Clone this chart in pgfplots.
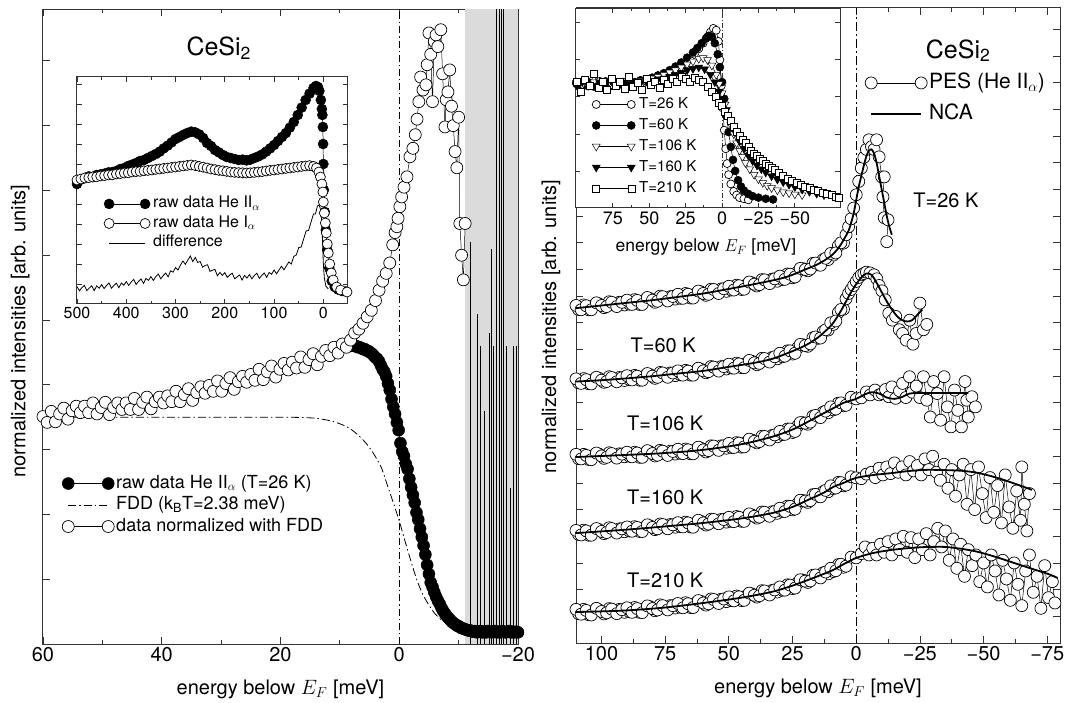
\documentclass[border=0pt]{standalone}
\usepackage{pgfplots}
\pgfplotsset{compat=1.18}
\usepackage{fontspec}
\setmainfont{TeX Gyre Heros}
\begin{document}
\begin{tikzpicture}[x=1pt,y=1pt]
\useasboundingbox (0,0) rectangle (1067,702);
\pgfplotsset{
  base/.style={scale only axis, x dir=reverse, anchor=south west,
    axis line style={black!80, line width=1pt},
    tick style={black!80, line width=0.8pt},
    major tick length=7pt, minor tick length=4pt,
    yticklabels={}, legend cell align=left},
  lenleg/.style={legend image code/.code={\draw[##1] plot coordinates {(0pt,0pt) (#1,0pt)}; \path[draw=none, fill=none] (-7pt,-3pt) rectangle ([xshift=7pt]#1,3pt);}},
  pes/.style={black, line width=0.5pt, mark=*, mark size=#1, mark options={solid, fill=white, draw=black, line width=0.7pt}},
  dots/.style={black, line width=0.5pt, mark=*, mark size=#1, mark options={solid, fill=black, draw=black}},
  tri/.style={black, line width=0.5pt, mark=triangle*, mark size=#1, mark options={solid, fill=white, draw=black, rotate=180}},
  trif/.style={black, line width=0.5pt, mark=triangle*, mark size=#1, mark options={solid, fill=black, draw=black, rotate=180}},
  sq/.style={black, line width=0.5pt, mark=square*, mark size=#1, mark options={solid, fill=white, draw=black}},
  nca/.style={black, line width=1.8pt, smooth},
}
% ================= LEFT MAIN =================
\begin{axis}[base, at={(43pt,58pt)}, width=475pt, height=635pt,
  xmin=-20, xmax=60, ymin=0, ymax=9.8,
  xtick={-20,0,20,40,60}, xticklabels={−20,0,20,40,60}, minor x tick num=1,
  ytick={1,...,9},
  font=\fontsize{20}{24}\selectfont,
  xlabel={energy below $E_F$ [meV]}, ylabel={normalized intensities [arb. units]},
  xlabel style={at={(axis description cs:0.5,-0.072)}, anchor=center},
  ylabel style={at={(axis description cs:-0.048,0.493)}, anchor=center},
  lenleg=40pt,
  legend style={at={(0.038,0.268)}, anchor=north west, draw=none, fill=none, inner sep=0pt,
    font=\fontsize{18}{21}\selectfont, row sep=2.5pt,
    nodes={inner sep=1pt, text height=13pt, text depth=4pt, anchor=west}},
]
\addplot[fill=black!14, draw=none, forget plot] coordinates {(-11.05,9.8) (-20,9.8)} \closedcycle;
\addplot[ycomb, black, line width=0.8pt, forget plot] coordinates {
(-12.0,6.2) (-13.2,5.1) (-13.7,4.6) (-14.3,3.6) (-15.2,4.8) (-15.5,6.1) (-15.9,4.6)
(-16.4,12) (-16.8,12) (-17.2,12) (-17.6,12) (-18.1,4.6) (-18.7,2.4) (-19.3,4.6) (-19.7,4.6)};
\addplot[black, line width=0.8pt, dash pattern=on 7pt off 3pt on 1.2pt off 3pt, forget plot] coordinates {(0,0) (0,9.8)};
\addlegendimage{dots=6pt}
\addlegendentry{raw data He II$_\alpha$ (T=26 K)}
\addlegendimage{black, line width=0.8pt, dash pattern=on 8pt off 3pt on 1.5pt off 3pt}
\addlegendentry{FDD (k\textsubscript{B}T=2.38 meV)}
\addlegendimage{pes=6pt}
\addlegendentry{data normalized with FDD}
% FDD
\addplot[black, line width=0.8pt, dash pattern=on 8pt off 3pt on 1.5pt off 3pt, smooth, forget plot] coordinates {
(60,3.50) (40,3.50) (20,3.50) (15,3.49) (13,3.47) (11,3.43) (9,3.36) (7.5,3.27) (6,3.14) (5,3.03) (4,2.89) (3,2.72) (2,2.45) (1,2.18) (0,1.90) (-1,1.58) (-2,1.27) (-3,0.98) (-4,0.76) (-5,0.60) (-6,0.47) (-7,0.38) (-8,0.32) (-9,0.28) (-10,0.25) (-12,0.22) (-15,0.20) (-20,0.20)};
% raw data
\addplot[dots=6pt, forget plot] coordinates {
(10,4.58) (9.7,4.60) (9.4,4.60) (9.1,4.62) (8.8,4.60) (8.5,4.62) (8.2,4.60) (7.9,4.62) (7.6,4.60) (7.3,4.60) (7.0,4.58) (6.7,4.58) (6.4,4.57) (6.1,4.55) (5.8,4.55) (5.5,4.53) (5.2,4.52) (4.9,4.50) (4.6,4.48) (4.3,4.45) (4.0,4.42) (3.7,4.40) (3.4,4.36) (3.1,4.30) (2.8,4.24) (2.5,4.20) (2.2,4.13) (1.9,4.02) (1.6,3.92) (1.3,3.78) (1.0,3.66) (0.7,3.55) (0.4,3.42) (0.1,3.30) (-0.2,3.10) (-0.5,2.97) (-0.8,2.90) (-1.1,2.78) (-1.4,2.70) (-1.7,2.55) (-2.0,2.42) (-2.3,2.30) (-2.6,2.18) (-2.9,2.03) (-3.2,1.92) (-3.5,1.78) (-3.8,1.65) (-4.1,1.52) (-4.4,1.38) (-4.7,1.22) (-5.0,1.08) (-5.3,0.95) (-5.6,0.88) (-5.9,0.80) (-6.2,0.73) (-6.5,0.67) (-6.8,0.62) (-7.1,0.56) (-7.4,0.51) (-7.7,0.47) (-8.0,0.43) (-8.3,0.40) (-8.6,0.37) (-8.9,0.34) (-9.2,0.32) (-9.5,0.30) (-9.8,0.28) (-10.1,0.27) (-10.4,0.25) (-10.7,0.24) (-11.0,0.23) (-11.3,0.22) (-11.6,0.21) (-11.9,0.21) (-12.2,0.20) (-12.5,0.19) (-12.8,0.20) (-13.1,0.18) (-13.4,0.19) (-13.7,0.20) (-14.0,0.18) (-14.3,0.19) (-14.6,0.18) (-14.9,0.20) (-15.2,0.19) (-15.5,0.18) (-15.8,0.19) (-16.1,0.20) (-16.4,0.18) (-16.7,0.19) (-17.0,0.18) (-17.3,0.20) (-17.6,0.19) (-17.9,0.18) (-18.2,0.19) (-18.5,0.20) (-18.8,0.18) (-19.1,0.19) (-19.4,0.18) (-19.7,0.19) (-20.0,0.18)};
% normalized data
\addplot[pes=6pt, forget plot] coordinates {
(60,3.51) (59.3,3.42) (58.6,3.59) (57.9,3.43) (57.2,3.55) (56.5,3.64) (55.8,3.47) (55.1,3.60) (54.4,3.67) (53.7,3.57) (53.0,3.67) (52.3,3.57) (51.6,3.72) (50.9,3.55) (50.2,3.65) (49.5,3.73) (48.8,3.54) (48.1,3.65) (47.4,3.72) (46.7,3.62) (46.0,3.72) (45.3,3.62) (44.6,3.79) (43.9,3.62) (43.2,3.73) (42.5,3.81) (41.8,3.63) (41.1,3.74) (40.4,3.81) (39.7,3.72) (39.0,3.83) (38.3,3.74) (37.6,3.90) (36.9,3.74) (36.2,3.85) (35.5,3.94) (34.8,3.76) (34.1,3.88) (33.4,3.97) (32.7,3.87) (32.0,3.99) (31.3,3.90) (30.6,4.06) (29.9,3.90) (29.2,4.02) (28.5,4.11) (27.8,3.93) (27.1,4.05) (26.4,4.13) (25.7,4.04) (25.0,4.16) (24.3,4.07) (23.6,4.24) (22.9,4.08) (22.2,4.20) (21.5,4.29) (20.8,4.12) (20.1,4.24) (19.4,4.33) (18.7,4.23) (18.0,4.35) (17.3,4.26) (16.6,4.43) (15.9,4.27) (15.2,4.39) (14.5,4.48) (13.8,4.31) (13.1,4.44) (12.4,4.53) (11.7,4.45) (11.0,4.58) (10.3,4.49) (9.6,4.63) (8.9,4.58) (8.2,4.69) (7.5,4.80) (6.8,4.86) (6.1,4.95) (5.4,5.05) (4.7,5.15) (4.0,5.30) (3.4,5.46) (2.8,5.60) (2.2,5.72) (1.6,5.88) (1.1,6.16) (0.7,6.35) (0.4,6.44) (0.2,6.57) (-0.1,6.75) (-0.4,6.90) (-0.8,7.05) (-1.3,7.21) (-1.8,7.52) (-2.3,7.65) (-2.7,7.86) (-3.0,8.10) (-3.3,8.37) (-3.6,8.75) (-4.0,8.55) (-4.5,8.63) (-4.7,8.94) (-5.0,9.43) (-5.3,9.10) (-5.6,8.37) (-5.9,9.30) (-6.2,9.40) (-6.5,9.22) (-7.0,9.48) (-7.3,8.80) (-7.7,7.98) (-7.9,8.40) (-8.2,8.52) (-8.5,8.86) (-8.8,8.30) (-9.1,8.00) (-9.4,7.60) (-9.7,7.35) (-10.0,8.13) (-10.2,6.49) (-10.5,6.00) (-10.8,5.62) (-11.1,6.49)};
\node[font=\fontsize{25}{30}\selectfont] at (axis cs:30.4,9.2) {CeSi\textsubscript{2}};
\end{axis}
% ================= LEFT INSET =================
\begin{axis}[base, at={(77pt,398pt)}, width=271pt, height=227pt,
  xmin=-50, xmax=500, ymin=0, ymax=11.35,
  xtick={0,100,200,300,400,500}, xticklabels={0,100,200,300,400,500}, minor x tick num=1,
  ytick={1,...,11}, major tick length=5pt, minor tick length=3pt,
  font=\fontsize{16}{19}\selectfont,
  lenleg=36pt,
  legend style={at={(0.092,0.478)}, anchor=north west, draw=none, fill=none, inner sep=0pt,
    font=\fontsize{16}{19}\selectfont, row sep=3pt,
    nodes={inner sep=1pt, text height=11pt, text depth=3.5pt, anchor=west}},
]
\addlegendimage{dots=5pt}
\addlegendentry{raw data He II$_\alpha$}
\addlegendimage{pes=5pt}
\addlegendentry{raw data He I$_\alpha$}
\addlegendimage{black, line width=0.8pt}
\addlegendentry{difference}
\addplot[dots=5pt, forget plot] coordinates {
(500,6.00) (492,6.22) (484,6.30) (476,6.38) (468,6.35) (460,6.45) (452,6.48) (444,6.52) (436,6.58) (428,6.60) (420,6.65) (412,6.75) (404,6.80) (396,6.90) (388,6.97) (380,7.05) (372,7.15) (364,7.20) (356,7.30) (348,7.40) (340,7.50) (332,7.62) (324,7.78) (316,7.92) (308,8.08) (300,8.25) (292,8.35) (284,8.46) (276,8.55) (268,8.62) (260,8.58) (252,8.48) (244,8.30) (236,8.05) (228,7.90) (220,7.70) (212,7.58) (204,7.45) (196,7.35) (188,7.30) (180,7.25) (172,7.20) (164,7.22) (156,7.18) (148,7.22) (140,7.30) (132,7.38) (124,7.48) (116,7.62) (108,7.78) (100,7.95) (92,8.15) (84,8.35) (76,8.55) (68,8.82) (60,9.10) (52,9.45) (44,9.82) (36,10.20) (28,10.52) (20,10.80) (15,10.90) (11,10.85) (8,10.65) (5,10.20) (3,9.75) (2,9.45) (1,8.85) (0.5,8.00) (0,7.00) (-1,5.70) (-3,4.60) (-5,3.70) (-8,2.70) (-12,1.80) (-17,1.15) (-23,0.85) (-30,0.72) (-38,0.65) (-46,0.62)};
\addplot[pes=5pt, forget plot] coordinates {
(500,6.20) (492,6.25) (484,6.30) (476,6.32) (468,6.35) (460,6.36) (452,6.40) (444,6.42) (436,6.45) (428,6.46) (420,6.50) (412,6.52) (404,6.55) (396,6.56) (388,6.60) (380,6.62) (372,6.63) (364,6.66) (356,6.68) (348,6.70) (340,6.73) (332,6.75) (324,6.78) (316,6.80) (308,6.83) (300,6.85) (292,6.88) (284,6.90) (276,6.93) (268,6.95) (260,6.92) (252,6.88) (244,6.84) (236,6.80) (228,6.75) (220,6.72) (212,6.68) (204,6.66) (196,6.63) (188,6.60) (180,6.58) (172,6.57) (164,6.56) (156,6.55) (148,6.56) (140,6.58) (132,6.60) (124,6.62) (116,6.65) (108,6.68) (100,6.70) (92,6.73) (84,6.75) (76,6.78) (68,6.80) (60,6.83) (52,6.85) (44,6.88) (36,6.90) (28,6.92) (20,6.88) (14,6.80) (9,6.60) (6,6.35) (3,6.00) (1,5.60) (0,5.10) (-2,4.55) (-4,4.05) (-6,3.55) (-8,3.00) (-10,2.55) (-13,2.00) (-16,1.55) (-20,1.20) (-27,0.85) (-35,0.70) (-48,0.60)};
\addplot[black, line width=0.8pt, forget plot] coordinates {
(500,0.87) (495,0.66) (490,0.82) (485,0.93) (480,0.67) (475,0.80) (470,0.91) (465,0.67) (460,0.91) (455,0.79) (450,0.97) (445,0.77) (440,0.93) (435,1.05) (430,0.79) (425,0.93) (420,1.04) (415,0.81) (410,1.05) (405,0.94) (400,1.12) (395,0.93) (390,1.10) (385,1.23) (380,0.98) (375,1.13) (370,1.25) (365,1.03) (360,1.28) (355,1.18) (350,1.37) (345,1.18) (340,1.37) (335,1.50) (330,1.26) (325,1.42) (320,1.55) (315,1.36) (310,1.66) (305,1.59) (300,1.82) (295,1.70) (290,1.95) (285,2.15) (280,1.98) (275,2.20) (270,2.40) (265,2.12) (260,2.33) (255,2.08) (250,2.12) (245,1.84) (240,1.93) (235,1.96) (230,1.63) (225,1.69) (220,1.73) (215,1.41) (210,1.58) (205,1.43) (200,1.57) (195,1.33) (190,1.45) (185,1.54) (180,1.26) (175,1.36) (170,1.45) (165,1.20) (160,1.43) (155,1.30) (150,1.47) (145,1.26) (140,1.43) (135,1.54) (130,1.28) (125,1.43) (120,1.55) (115,1.33) (110,1.58) (105,1.49) (100,1.70) (95,1.51) (90,1.70) (85,1.89) (80,1.71) (75,1.91) (70,2.10) (65,2.00) (60,2.38) (55,2.45) (50,2.82) (45,2.85) (40,3.25) (35,3.65) (30,3.68) (25,4.10) (20,4.50) (16,4.50) (12,4.90) (9,4.95) (7,4.85) (5,4.60) (3,4.00) (1.5,3.00) (0,2.00) (-2,1.30) (-5,0.90) (-10,0.75)};
\end{axis}
% ================= RIGHT MAIN =================
\begin{axis}[base, at={(576pt,59pt)}, width=484pt, height=635pt,
  clip=false, clip marker paths=true,
  xmin=-80, xmax=110, ymin=0, ymax=23.8,
  xtick={-75,-50,-25,0,25,50,75,100}, xticklabels={−75,−50,−25,0,25,50,75,100}, minor x tick num=1,
  ytick={1,...,23},
  font=\fontsize{20}{24}\selectfont,
  xlabel={energy below $E_F$ [meV]}, ylabel={normalized intensities [arb. units]},
  xlabel style={at={(axis description cs:0.5,-0.071)}, anchor=center},
  ylabel style={at={(axis description cs:-0.052,0.498)}, anchor=center},
  lenleg=50pt,
  legend style={at={(0.595,0.900)}, anchor=north west, draw=none, fill=none, inner sep=0pt,
    font=\fontsize{21}{25}\selectfont, row sep=8.5pt,
    nodes={inner sep=1pt, text height=15.5pt, text depth=5pt, anchor=west}},
]
\addplot[black, line width=1.4pt, dash pattern=on 9pt off 3pt on 2pt off 3pt, forget plot] coordinates {(0,0) (0,23.8)};
\addlegendimage{pes=6pt}
\addlegendentry{PES (He II$_\alpha$)}
\addlegendimage{black, line width=1.8pt}
\addlegendentry{NCA}
% --- 26 K ---
\addplot[pes=6pt, only marks, forget plot] coordinates {
(109,12.50) (107,12.67) (105,12.49) (103,12.65) (101,12.71) (99,12.57) (97,12.79) (95,12.67) (93,12.77) (91,12.67) (89,12.70) (87,12.87) (85,12.69) (83,12.85) (81,12.91) (79,12.77) (77,13.00) (75,12.88) (73,12.98) (71,12.89) (69,12.92) (67,13.10) (65,12.93) (63,13.09) (61,13.16) (59,13.03) (57,13.26) (55,13.16) (53,13.27) (51,13.18) (49,13.23) (47,13.41) (45,13.25) (43,13.43) (41,13.50) (39,13.38) (37,13.62) (35,13.52) (33,13.64) (31,13.56) (29,13.62) (27,13.83) (25,13.69) (23,13.91) (21,14.03) (19,13.95) (17,14.23) (15,14.17) (13,14.37) (11,14.37) (9,14.54) (7,14.89) (5,14.99)};
\addplot[pes=6pt, forget plot] coordinates {
(110,12.65) (108,12.49) (106,12.64) (104,12.49) (102,12.75) (100,12.65) (98,12.61) (96,12.77) (94,12.61) (92,12.77) (90,12.85) (88,12.69) (86,12.84) (84,12.69) (82,12.95) (80,12.85) (78,12.81) (76,12.98) (74,12.82) (72,12.99) (70,13.07) (68,12.92) (66,13.07) (64,12.93) (62,13.19) (60,13.10) (58,13.07) (56,13.25) (54,13.10) (52,13.28) (50,13.37) (48,13.23) (46,13.39) (44,13.26) (42,13.53) (40,13.45) (38,13.43) (36,13.61) (34,13.47) (32,13.65) (30,13.75) (28,13.63) (26,13.82) (24,13.72) (22,14.04) (20,14.00) (18,14.02) (16,14.24) (14,14.16) (12,14.42) (10,14.60) (8,14.62) (6,15.00) (4,15.30) (3,15.60) (2,15.90) (1,16.30) (0,16.80) (-1,17.30) (-2,17.80) (-3,18.20) (-4,18.50) (-5,18.86) (-6,18.60) (-7,18.50) (-8,18.86) (-9,18.22) (-10,17.47) (-11,17.47) (-10.5,16.72) (-11,15.94) (-12.5,15.86) (-12,15.04)};
\addplot[nca, forget plot] coordinates {
(110,12.55) (100,12.65) (90,12.75) (80,12.85) (70,12.97) (60,13.10) (50,13.27) (40,13.45) (30,13.65) (25,13.80) (20,14.00) (15,14.20) (10,14.50) (7,14.80) (5,15.10) (3,15.45) (2,15.75) (1,16.10) (0,16.60) (-1,17.10) (-2,17.50) (-3,17.90) (-4,18.25) (-5,18.45) (-6,18.50) (-7,18.35) (-8,18.00) (-9,17.50) (-10,17.00) (-11,16.50) (-12,16.00) (-13,15.60) (-14,15.30)};
% --- 60 K ---
\addplot[pes=6pt, only marks, forget plot] coordinates {
(109,9.75) (107,9.91) (105,9.72) (103,9.87) (101,9.92) (99,9.77) (97,9.98) (95,9.86) (93,9.95) (91,9.84) (89,9.87) (87,10.03) (85,9.85) (83,10.01) (81,10.06) (79,9.92) (77,10.14) (75,10.02) (73,10.12) (71,10.02) (69,10.05) (67,10.22) (65,10.04) (63,10.20) (61,10.26) (59,10.13) (57,10.36) (55,10.25) (53,10.36) (51,10.27) (49,10.31) (47,10.49) (45,10.32) (43,10.49) (41,10.56) (39,10.43) (37,10.67) (35,10.58) (33,10.70) (31,10.65) (29,10.73) (27,10.95) (25,10.83) (23,11.06) (21,11.18) (19,11.12) (17,11.44) (15,11.42) (13,11.67) (11,11.73) (9,11.94) (7,12.39) (5,12.51)};
\addplot[pes=6pt, forget plot] coordinates {
(110,9.90) (108,9.73) (106,9.87) (104,9.71) (102,9.96) (100,9.85) (98,9.80) (96,9.95) (94,9.79) (92,9.94) (90,10.02) (88,9.86) (86,10.00) (84,9.85) (82,10.10) (80,10.00) (78,9.96) (76,10.12) (74,9.96) (72,10.12) (70,10.20) (68,10.04) (66,10.19) (64,10.04) (62,10.30) (60,10.20) (58,10.17) (56,10.34) (54,10.19) (52,10.36) (50,10.45) (48,10.30) (46,10.46) (44,10.32) (42,10.59) (40,10.50) (38,10.48) (36,10.66) (34,10.53) (32,10.73) (30,10.86) (28,10.75) (26,10.95) (24,10.86) (22,11.19) (20,11.15) (18,11.21) (16,11.47) (14,11.43) (12,11.74) (10,12.00) (8,12.07) (6,12.50) (4,12.90) (3,13.10) (2,13.25) (1,13.40) (0,13.55) (-1,13.70) (-2,13.80) (-3,13.85) (-4,13.90) (-5.4,13.87) (-7,13.80) (-8.1,13.65) (-9,13.40) (-10.1,13.20) (-11.4,12.86) (-12.8,12.36) (-14.2,12.10) (-15.5,12.24) (-16.9,11.74) (-18.2,11.60) (-19.6,11.35) (-21,12.10) (-22.3,11.20) (-23.5,11.60) (-25.0,12.74) (-26.4,11.74) (-27.7,11.94)};
\addplot[nca, forget plot] coordinates {
(110,9.80) (100,9.85) (90,9.92) (80,10.00) (70,10.10) (60,10.20) (50,10.35) (40,10.50) (33,10.65) (26,10.90) (20,11.15) (15,11.45) (12,11.70) (9,12.00) (6,12.45) (4,12.80) (2,13.15) (0,13.45) (-2,13.70) (-4,13.85) (-6,13.80) (-8,13.50) (-10,13.15) (-12,12.80) (-14,12.50) (-16,12.25) (-18,12.10) (-20,12.05) (-22,12.10) (-24,12.30) (-26,12.50)};
% --- 106 K ---
\addplot[pes=6pt, only marks, forget plot] coordinates {
(109,6.91) (107,7.07) (105,6.88) (103,7.03) (101,7.08) (99,6.92) (97,7.13) (95,7.00) (93,7.09) (91,6.98) (89,7.00) (87,7.15) (85,6.96) (83,7.11) (81,7.16) (79,7.01) (77,7.22) (75,7.09) (73,7.19) (71,7.08) (69,7.11) (67,7.27) (65,7.09) (63,7.25) (61,7.30) (59,7.16) (57,7.39) (55,7.28) (53,7.39) (51,7.30) (49,7.33) (47,7.51) (45,7.34) (43,7.53) (41,7.61) (39,7.50) (37,7.75) (35,7.65) (33,7.78) (31,7.73) (29,7.81) (27,8.02) (25,7.89) (23,8.13) (21,8.26) (19,8.20) (17,8.50) (15,8.47) (13,8.65) (11,8.63) (9,8.74) (7,8.99) (5,8.89)};
\addplot[pes=6pt, forget plot] coordinates {
(110,7.07) (108,6.90) (106,7.03) (104,6.87) (102,7.12) (100,7.01) (98,6.96) (96,7.10) (94,6.93) (92,7.08) (90,7.15) (88,6.98) (86,7.12) (84,6.96) (82,7.21) (80,7.10) (78,7.04) (76,7.19) (74,7.03) (72,7.18) (70,7.26) (68,7.10) (66,7.24) (64,7.09) (62,7.34) (60,7.24) (58,7.21) (56,7.38) (54,7.22) (52,7.39) (50,7.48) (48,7.33) (46,7.49) (44,7.35) (42,7.64) (40,7.56) (38,7.55) (36,7.74) (34,7.61) (32,7.80) (30,7.93) (28,7.82) (26,8.02) (24,7.93) (22,8.26) (20,8.24) (18,8.28) (16,8.53) (14,8.45) (12,8.69) (10,8.85) (8,8.77) (6,9.00) (4,8.91) (2,9.21) (0,9.15) (-2,9.19) (-4,9.41) (-5.5,9.30) (-7.4,9.48) (-9,9.30) (-10.1,9.35) (-11.5,9.50) (-12.8,9.23) (-14,9.60) (-15.5,9.17) (-17,9.45) (-18.2,9.73) (-19.5,9.20) (-20.9,9.98) (-22,9.40) (-23.6,9.63) (-25,9.20) (-26.4,9.98) (-27.7,9.10) (-29.1,8.47) (-30.4,9.80) (-31.8,9.35) (-33.1,8.35) (-34.5,9.98) (-35.8,8.85) (-37.2,8.10) (-38.6,9.48) (-39.9,8.72) (-41.3,8.10) (-42.7,9.80) (-43.4,9.10) (-44,8.47) (-45.4,9.23) (-46.8,8.85)};
\addplot[nca, forget plot] coordinates {
(110,6.97) (90,7.05) (75,7.12) (60,7.24) (45,7.45) (33,7.73) (25,8.00) (19,8.29) (14,8.55) (9,8.80) (5,9.00) (0,9.15) (-3,9.30) (-6,9.40) (-9,9.35) (-12,9.20) (-15,9.15) (-18,9.22) (-21,9.35) (-25,9.37) (-35,9.37) (-44,9.37)};
% --- 160 K ---
\addplot[pes=6pt, only marks, forget plot] coordinates {
(109,4.07) (107,4.23) (105,4.04) (103,4.20) (101,4.25) (99,4.10) (97,4.32) (95,4.19) (93,4.28) (91,4.17) (89,4.20) (87,4.36) (85,4.18) (83,4.34) (81,4.39) (79,4.25) (77,4.46) (75,4.34) (73,4.44) (71,4.34) (69,4.36) (67,4.53) (65,4.35) (63,4.50) (61,4.56) (59,4.42) (57,4.64) (55,4.52) (53,4.63) (51,4.53) (49,4.56) (47,4.74) (45,4.56) (43,4.73) (41,4.80) (39,4.68) (37,4.91) (35,4.80) (33,4.92) (31,4.86) (29,4.93) (27,5.13) (25,4.99) (23,5.22) (21,5.34) (19,5.27) (17,5.56) (15,5.50) (13,5.67) (11,5.67) (9,5.79) (7,6.02) (5,5.89)};
\addplot[pes=6pt, forget plot] coordinates {
(110,4.22) (108,4.05) (106,4.20) (104,4.04) (102,4.29) (100,4.18) (98,4.14) (96,4.29) (94,4.12) (92,4.28) (90,4.35) (88,4.19) (86,4.33) (84,4.18) (82,4.43) (80,4.33) (78,4.28) (76,4.44) (74,4.28) (72,4.43) (70,4.51) (68,4.35) (66,4.50) (64,4.34) (62,4.60) (60,4.50) (58,4.46) (56,4.63) (54,4.47) (52,4.63) (50,4.71) (48,4.55) (46,4.71) (44,4.56) (42,4.84) (40,4.75) (38,4.72) (36,4.90) (34,4.75) (32,4.93) (30,5.05) (28,4.93) (26,5.12) (24,5.02) (22,5.35) (20,5.32) (18,5.34) (16,5.57) (14,5.48) (12,5.72) (10,5.89) (8,5.81) (6,6.01) (4,5.92) (2,6.23) (0,6.19) (-2,6.16) (-4,6.33) (-6,6.40) (-7.5,6.20) (-9,6.55) (-10.5,6.30) (-12,6.60) (-13.5,6.35) (-15,6.75) (-16.5,6.40) (-18,6.60) (-19.5,6.30) (-21,6.80) (-22.5,6.45) (-24,6.65) (-25.5,6.30) (-27,6.90) (-28.5,6.50) (-30,7.00) (-31.5,6.40) (-33,6.10) (-34.5,6.70) (-36,5.80) (-37.5,6.50) (-39,5.50) (-40.5,6.30) (-42,6.70) (-43.5,5.20) (-45,6.50) (-46.5,5.00) (-48,6.60) (-49.5,5.60) (-51,4.70) (-52.5,6.20) (-54,4.90) (-55.5,5.90) (-57,4.50) (-58.5,6.30) (-60,5.10) (-61.5,4.30) (-63,5.70) (-64.5,4.60) (-65,6.60) (-66,5.20) (-67,4.20) (-68,5.60)};
\addplot[nca, forget plot] coordinates {
(110,4.12) (90,4.25) (75,4.37) (60,4.50) (45,4.67) (33,4.87) (25,5.10) (19,5.36) (13,5.62) (9,5.85) (5,6.00) (0,6.19) (-7,6.30) (-14,6.37) (-21,6.45) (-28,6.49) (-35,6.48) (-42,6.45) (-48,6.37) (-55,6.20) (-62,5.98) (-69,5.74)};
% --- 210 K ---
\addplot[pes=6pt, only marks, forget plot] coordinates {
(109,1.10) (107,1.26) (105,1.06) (103,1.20) (101,1.24) (99,1.09) (97,1.29) (95,1.17) (93,1.26) (91,1.15) (89,1.17) (87,1.33) (85,1.15) (83,1.30) (81,1.36) (79,1.21) (77,1.43) (75,1.30) (73,1.40) (71,1.31) (69,1.34) (67,1.51) (65,1.33) (63,1.50) (61,1.56) (59,1.42) (57,1.65) (55,1.54) (53,1.64) (51,1.55) (49,1.59) (47,1.76) (45,1.59) (43,1.77) (41,1.84) (39,1.72) (37,1.96) (35,1.85) (33,1.97) (31,1.91) (29,1.98) (27,2.18) (25,2.04) (23,2.25) (21,2.36) (19,2.27) (17,2.54) (15,2.48) (13,2.63) (11,2.59) (9,2.68) (7,2.94) (5,2.84)};
\addplot[pes=6pt, forget plot] coordinates {
(110,1.26) (108,1.08) (106,1.22) (104,1.05) (102,1.30) (100,1.18) (98,1.13) (96,1.27) (94,1.10) (92,1.25) (90,1.32) (88,1.15) (86,1.29) (84,1.14) (82,1.39) (80,1.29) (78,1.24) (76,1.40) (74,1.24) (72,1.40) (70,1.48) (68,1.32) (66,1.47) (64,1.33) (62,1.59) (60,1.50) (58,1.47) (56,1.63) (54,1.48) (52,1.65) (50,1.73) (48,1.58) (46,1.73) (44,1.60) (42,1.87) (40,1.79) (38,1.77) (36,1.95) (34,1.80) (32,1.99) (30,2.10) (28,1.98) (26,2.17) (24,2.06) (22,2.37) (20,2.32) (18,2.33) (16,2.55) (14,2.44) (12,2.66) (10,2.80) (8,2.71) (6,2.95) (4,2.88) (2,3.22) (0,3.19) (-2,3.35) (-3.5,3.60) (-5,3.30) (-6.5,3.55) (-8,3.30) (-9.5,3.70) (-11,3.40) (-12.5,3.80) (-14,3.30) (-15.5,3.90) (-17,3.50) (-18.5,4.00) (-20,3.40) (-21.5,3.95) (-23,3.20) (-24.5,3.90) (-26,3.50) (-27.5,4.10) (-29,3.30) (-30.5,3.80) (-32,4.30) (-33.5,3.60) (-35,4.20) (-36.5,3.10) (-38,3.90) (-39.5,2.80) (-41,3.70) (-42.5,2.50) (-44,3.50) (-45.5,2.90) (-47,3.30) (-48.5,2.30) (-50,3.00) (-51.5,2.10) (-53,3.30) (-54.5,2.70) (-56,1.80) (-57.5,3.10) (-59,2.40) (-60.5,1.60) (-62,3.00) (-63.5,2.20) (-65,1.40) (-66.5,2.70) (-68,3.30) (-69.5,1.90) (-71,2.50) (-72.5,1.30) (-74,2.90) (-75.5,1.70) (-77,2.30) (-78,1.50)};
\addplot[nca, forget plot] coordinates {
(110,1.16) (95,1.20) (87,1.24) (75,1.33) (60,1.50) (45,1.70) (33,1.92) (25,2.15) (19,2.36) (13,2.58) (9,2.74) (5,2.95) (0,3.19) (-7,3.38) (-14,3.49) (-21,3.56) (-28,3.60) (-35,3.60) (-42,3.52) (-48,3.41) (-55,3.22) (-62,3.00) (-69,2.78) (-75,2.60) (-79,2.44)};
\node[font=\fontsize{25}{30}\selectfont] at (axis cs:-40,22.2) {CeSi\textsubscript{2}};
\node[anchor=west, font=\fontsize{20}{24}\selectfont, inner sep=0pt] at (axis cs:-22.4,16.6) {T=26 K};
\node[anchor=west, font=\fontsize{20}{24}\selectfont, inner sep=0pt] at (axis cs:88.6,11.17) {T=60 K};
\node[anchor=west, font=\fontsize{20}{24}\selectfont, inner sep=0pt] at (axis cs:90,8.25) {T=106 K};
\node[anchor=west, font=\fontsize{20}{24}\selectfont, inner sep=0pt] at (axis cs:90,5.44) {T=160 K};
\node[anchor=west, font=\fontsize{20}{24}\selectfont, inner sep=0pt] at (axis cs:90,2.36) {T=210 K};
\end{axis}
% ================= RIGHT INSET =================
\begin{axis}[base, at={(575pt,494pt)}, width=265pt, height=200pt,
  axis background/.style={fill=white},
  xmin=-81, xmax=101, ymin=0, ymax=5.4,
  xtick={-50,-25,0,25,50,75}, xticklabels={−50,−25,0,25,50,75}, minor x tick num=1,
  ytick={1,...,5}, major tick length=5pt, minor tick length=3pt,
  font=\fontsize{18}{21}\selectfont,
  xlabel={energy below $E_F$ [meV]},
  xlabel style={at={(axis description cs:0.494,-0.195)}, anchor=center, font=\fontsize{17.5}{21}\selectfont},
  lenleg=35pt,
  legend style={at={(0.053,0.56)}, anchor=north west, draw=none, fill=none, inner sep=0pt,
    font=\fontsize{15}{18}\selectfont, row sep=4.5pt,
    nodes={inner sep=1pt, text height=11pt, text depth=3.5pt, anchor=west}},
]
\addplot[black!80, line width=0.6pt, dash pattern=on 5pt off 2pt on 1pt off 2pt, forget plot] coordinates {(0,0) (0,5.4)};
\addlegendimage{pes=4pt}
\addlegendentry{T=26 K}
\addlegendimage{dots=4pt}
\addlegendentry{T=60 K}
\addlegendimage{tri=4.5pt}
\addlegendentry{T=106 K}
\addlegendimage{trif=4.5pt}
\addlegendentry{T=160 K}
\addlegendimage{sq=3.5pt}
\addlegendentry{T=210 K}
\addplot[pes=4pt, forget plot] coordinates {
(100,3.40) (96,3.30) (92,3.38) (88,3.28) (84,3.42) (80,3.33) (76,3.37) (72,3.30) (68,3.40) (64,3.34) (60,3.38) (56,3.36) (52,3.42) (48,3.40) (44,3.45) (40,3.50) (37,3.56) (34,3.62) (31,3.70) (28,3.80) (25,3.90) (22,4.02) (19,4.15) (16,4.30) (13,4.45) (10,4.62) (8,4.75) (6,4.85) (4,4.80) (2.5,4.50) (1.5,4.00) (0.5,3.30) (-0.5,2.70) (-1.5,2.10) (-2.5,1.60) (-3.5,1.20) (-4.5,0.90) (-6,0.65) (-8,0.45) (-10,0.35) (-12,0.28) (-15,0.25) (-18,0.22)};
\addplot[dots=4pt, forget plot] coordinates {
(100,3.35) (96,3.28) (92,3.40) (88,3.31) (84,3.36) (80,3.42) (76,3.30) (72,3.38) (68,3.36) (64,3.42) (60,3.40) (56,3.45) (52,3.48) (48,3.52) (44,3.58) (40,3.64) (36,3.72) (32,3.82) (28,3.93) (24,4.06) (20,4.20) (17,4.32) (14,4.45) (11,4.58) (9,4.65) (7,4.62) (5,4.45) (3,4.15) (1.5,3.80) (0,3.40) (-1.5,2.95) (-3,2.50) (-4.5,2.05) (-6,1.65) (-7.5,1.30) (-9,1.00) (-11,0.75) (-13,0.58) (-15,0.47) (-18,0.38) (-21,0.32) (-25,0.28) (-30,0.25) (-35,0.23)};
\addplot[tri=4.5pt, forget plot] coordinates {
(100,3.38) (96,3.32) (92,3.30) (88,3.40) (84,3.34) (80,3.36) (76,3.33) (72,3.42) (68,3.36) (64,3.40) (60,3.38) (56,3.44) (52,3.45) (48,3.50) (44,3.55) (40,3.60) (36,3.66) (32,3.72) (28,3.80) (24,3.88) (20,3.96) (16,4.03) (13,4.05) (10,4.00) (7,3.85) (4,3.60) (2,3.35) (0,3.10) (-2,2.80) (-4,2.50) (-6,2.25) (-8,2.00) (-10,1.75) (-12,1.55) (-14,1.38) (-16,1.22) (-19,1.05) (-22,0.90) (-25,0.78) (-28,0.68) (-31,0.60) (-34,0.54) (-38,0.48) (-42,0.43) (-46,0.40) (-50,0.37) (-55,0.35)};
\addplot[trif=4.5pt, forget plot] coordinates {
(100,3.32) (96,3.40) (92,3.34) (88,3.30) (84,3.38) (80,3.35) (76,3.42) (72,3.33) (68,3.38) (64,3.36) (60,3.40) (56,3.38) (52,3.42) (48,3.44) (44,3.48) (40,3.50) (36,3.55) (32,3.60) (28,3.65) (24,3.72) (20,3.76) (16,3.80) (12,3.75) (8,3.60) (5,3.40) (2,3.15) (0,2.95) (-3,2.65) (-6,2.35) (-9,2.05) (-12,1.80) (-15,1.60) (-18,1.42) (-21,1.27) (-24,1.15) (-27,1.05) (-30,0.96) (-34,0.86) (-38,0.77) (-42,0.70) (-46,0.63) (-50,0.57) (-55,0.50) (-60,0.44) (-65,0.39) (-70,0.35)};
\addplot[sq=3.5pt, forget plot] coordinates {
(100,3.40) (97,3.15) (94,3.45) (91,3.30) (88,3.62) (85,3.25) (82,3.40) (79,3.20) (76,3.50) (73,3.30) (70,3.42) (67,3.22) (64,3.55) (61,3.28) (58,3.38) (55,3.20) (52,3.48) (49,3.32) (46,3.40) (43,3.25) (40,3.45) (37,3.35) (34,3.50) (31,3.40) (28,3.55) (25,3.48) (22,3.40) (19,3.52) (16,3.45) (13,3.40) (10,3.28) (7,3.15) (4,3.00) (2,2.85) (0,2.75) (-2,2.60) (-4,2.50) (-6,2.35) (-8,2.20) (-10,2.05) (-12,1.95) (-14,1.85) (-16,1.75) (-18,1.65) (-20,1.55) (-22,1.47) (-24,1.40) (-26,1.33) (-28,1.27) (-30,1.20) (-32,1.15) (-34,1.10) (-36,1.03) (-39,0.95) (-42,0.88) (-45,0.80) (-48,0.74) (-51,0.69) (-54,0.64) (-57,0.58) (-60,0.55) (-63,0.50) (-66,0.46) (-69,0.42) (-72,0.38) (-75,0.35) (-78,0.31) (-80,0.28)};
\end{axis}
\end{tikzpicture}
\end{document}
